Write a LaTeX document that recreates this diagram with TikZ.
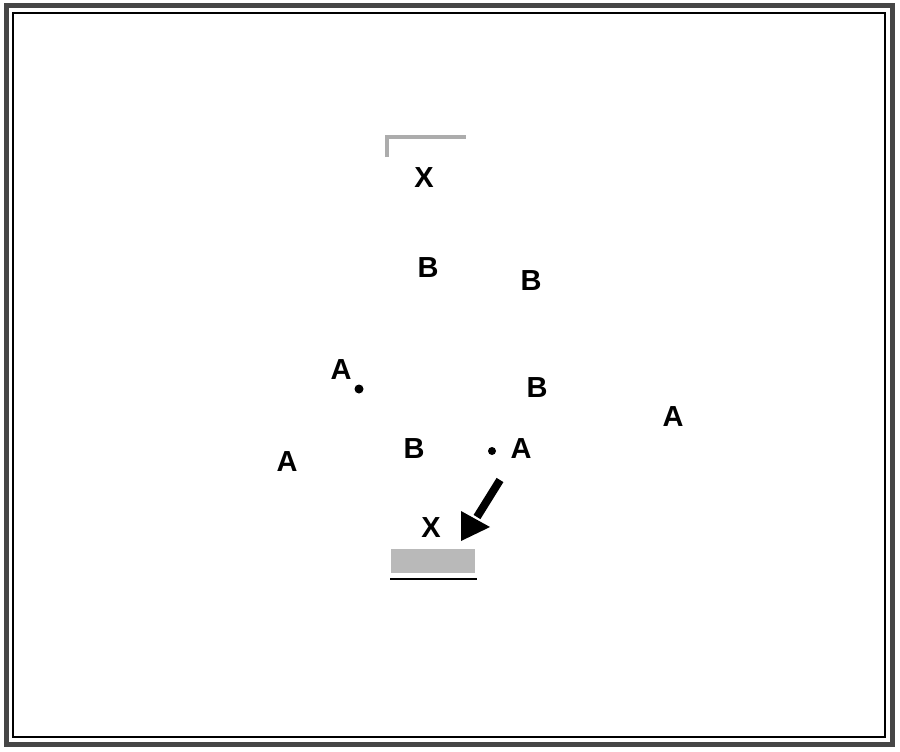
\documentclass[tikz,border=0pt]{standalone}
\usepackage{fontspec}
\setmainfont{Liberation Sans}
\begin{document}
\begin{tikzpicture}[x=1pt,y=-1pt,
  lbl/.style={font=\fontsize{29}{29}\selectfont\bfseries, inner sep=0pt, anchor=center},
  dotm/.style={circle, fill=black, inner sep=0pt, minimum size=9pt}]
\useasboundingbox (0,0) rectangle (900,752);
\fill[white] (0,0) rectangle (900,752);
\draw[gray!55!black, line width=5pt] (6,6) rectangle (892,744);
\draw[black, line width=1.8pt] (13,13) rectangle (885,737);
% top bracket
\draw[gray!65, line width=4pt] (387,157) -- (387,137) -- (466,137);
\node[lbl] (x1) at (424,178) {X};
\node[lbl] (b1) at (428,268) {B};
\node[lbl] (b2) at (531,281) {B};
\node[lbl] (a1) at (341,370) {A};
\node[dotm] (d1) at (359,389) {};
\node[lbl] (b3) at (537,388) {B};
\node[lbl] (a2) at (673,417) {A};
\node[lbl] (a3) at (287,462) {A};
\node[lbl] (b4) at (414,449) {B};
\node[dotm, minimum size=8pt] (d2) at (492,451) {};
\node[lbl] (a4) at (521,449) {A};
\node[lbl] (x2) at (431,528) {X};
% arrow
\coordinate (as) at (500,480);
\coordinate (ae) at (477,517);
\draw[line width=8pt] (as) -- (ae);
\fill[black] (461,511) -- (490,527) -- (461,541) -- cycle;
% bottom box
\node[draw=none, fill=gray!55, minimum width=84pt, minimum height=24pt, inner sep=0pt] (bx) at (433,561) {};
\draw[line width=2.5pt] (390,579) -- (477,579);
\end{tikzpicture}
\end{document}
